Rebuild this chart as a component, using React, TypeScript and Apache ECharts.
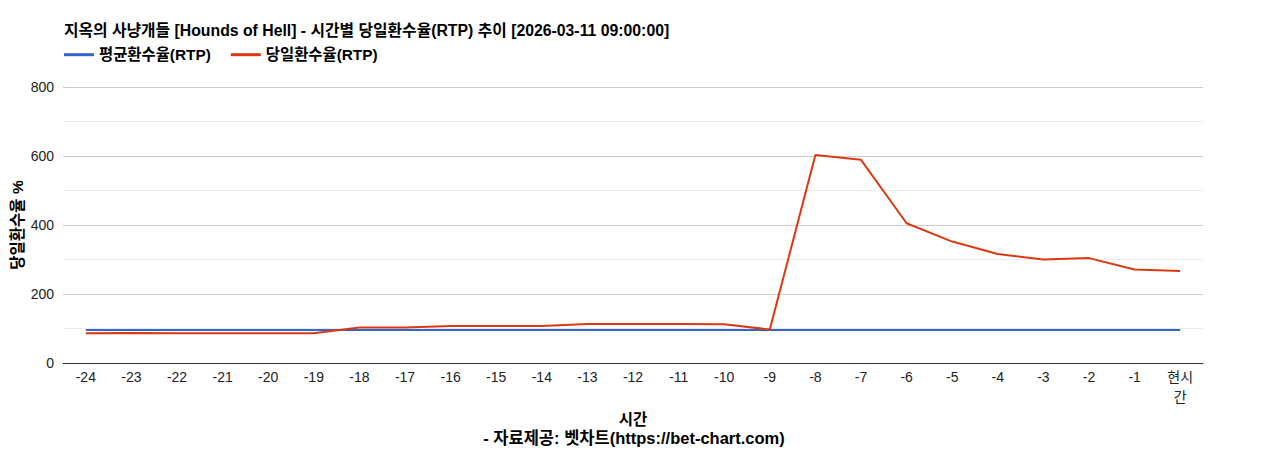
import React, { useEffect, useRef } from 'react';
import * as echarts from 'echarts';

const hours = ['-24', '-23', '-22', '-21', '-20', '-19', '-18', '-17', '-16', '-15', '-14', '-13', '-12', '-11', '-10', '-9', '-8', '-7', '-6', '-5', '-4', '-3', '-2', '-1', '현시간'];
const avgRtp = [96, 96, 96, 96, 96, 96, 96, 96, 96, 96, 96, 96, 96, 96, 96, 96, 96, 96, 96, 96, 96, 96, 96, 96, 96];
const dailyRtp = [86, 87, 86, 86, 86, 86, 103, 103, 107, 107, 107, 113, 113, 113, 112, 97, 603, 589, 405, 352, 316, 300, 304, 271, 267];

const FONT = "'Liberation Sans', Arial, 'Noto Sans CJK KR', sans-serif";

const App: React.FC = () => {
  const chartRef = useRef<HTMLDivElement>(null);

  useEffect(() => {
    const chart = echarts.init(chartRef.current!, null, { renderer: 'svg' });

    const option = {
      animation: false,
      textStyle: { fontFamily: FONT },
      title: {
        text: '지옥의 사냥개들 [Hounds of Hell] - 시간별 당일환수율(RTP) 추이 [2026-03-11 09:00:00]',
        left: 56,
        top: 15,
        padding: 0,
        textStyle: { fontSize: 15.8, fontWeight: 'bold', color: '#000', fontFamily: FONT },
      },
      legend: {
        left: 56,
        top: 39,
        padding: 0,
        itemWidth: 30,
        itemHeight: 3,
        itemGap: 20,
        icon: 'rect',
        textStyle: { fontSize: 15.4, fontWeight: 'bold', color: '#000', fontFamily: FONT },
        data: ['평균환수율(RTP)', '당일환수율(RTP)'],
      },
      grid: { left: 55, right: 57, top: 79, bottom: 95, outerBoundsMode: 'none', containLabel: false },
      xAxis: {
        type: 'category',
        data: hours,
        boundaryGap: true,
        name: '시간',
        nameLocation: 'middle',
        nameGap: 45,
        nameTextStyle: { fontSize: 15.5, fontWeight: 'bold', color: '#000' },
        axisLine: { lineStyle: { color: '#333', width: 1 } },
        axisTick: { show: false },
        axisLabel: {
          interval: 0,
          fontSize: 14,
          lineHeight: 20,
          color: '#222',
          margin: 4,
          formatter: (v: string) => (v === '현시간' ? '현시\n간' : v),
        },
      },
      yAxis: {
        type: 'value',
        min: 0,
        max: 800,
        interval: 200,
        name: '당일환수율 %',
        nameLocation: 'middle',
        nameGap: 38,
        nameMoveOverlap: false,
        nameRotate: 90,
        nameTextStyle: { fontSize: 15.5, fontWeight: 'bold', color: '#000' },
        axisLine: { show: false },
        axisTick: { show: false },
        axisLabel: { fontSize: 14, color: '#222', margin: 9 },
        splitLine: { lineStyle: { color: '#cccccc' } },
        minorTick: { show: false, splitNumber: 2 },
        minorSplitLine: { show: true, lineStyle: { color: '#ebebeb' } },
      },
      graphic: [
        {
          type: 'text',
          left: 'center',
          top: 422,
          style: {
            text: '- 자료제공: 벳차트(https://bet-chart.com)',
            fontSize: 16.5,
            fontWeight: 'bold',
            fill: '#000',
            fontFamily: FONT,
          },
        },
      ],
      series: [
        {
          name: '평균환수율(RTP)',
          type: 'line',
          data: avgRtp,
          symbol: 'none',
          itemStyle: { color: '#3366cc' },
          lineStyle: { color: '#3366cc', width: 2 },
        },
        {
          name: '당일환수율(RTP)',
          type: 'line',
          data: dailyRtp,
          symbol: 'none',
          itemStyle: { color: '#dc3912' },
          lineStyle: { color: '#dc3912', width: 2 },
        },
      ],
    };

    chart.setOption(option);
    const onResize = () => chart.resize();
    window.addEventListener('resize', onResize);

    return () => {
      window.removeEventListener('resize', onResize);
      chart.dispose();
    };
  }, []);

  return <div ref={chartRef} style={{ width: '1252px', height: '450px' }} />;
};

export default App;
